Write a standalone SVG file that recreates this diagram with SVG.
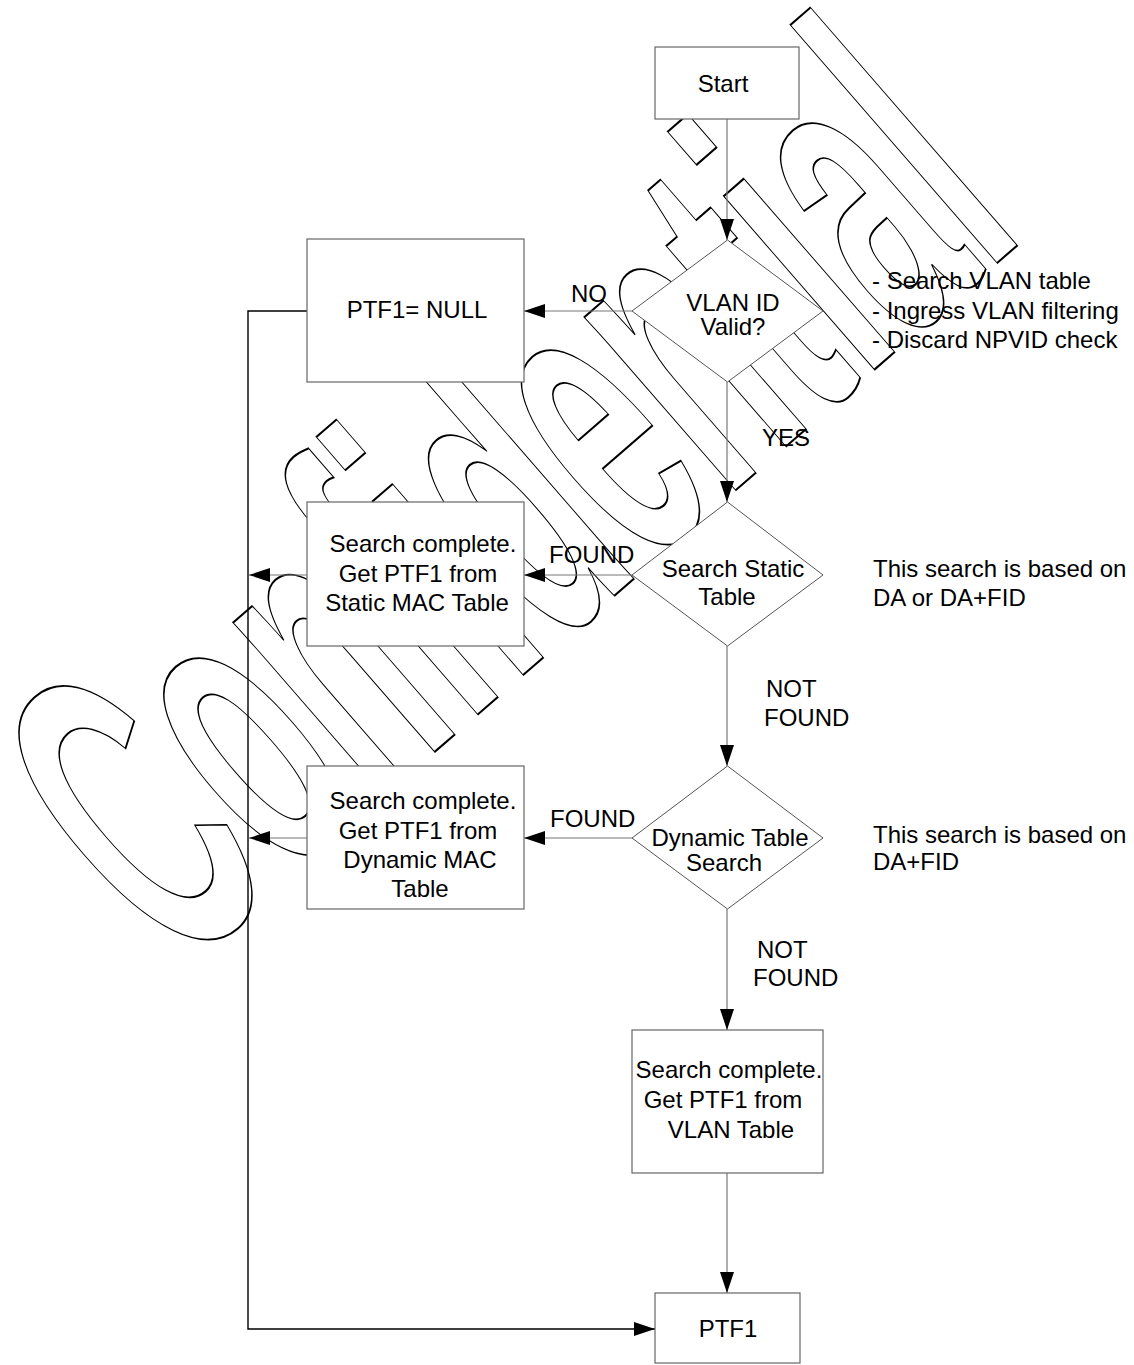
<svg xmlns="http://www.w3.org/2000/svg" width="1134" height="1365" viewBox="0 0 1134 1365">
<style>
text{font-family:"Liberation Sans",Arial,sans-serif;font-size:24px;fill:#000}
.m{text-anchor:middle}
.box{fill:#fff;stroke:#666;stroke-width:1.2}
.dia{fill:#fff;stroke:#555;stroke-width:1}
.ln{fill:none;stroke:#777;stroke-width:1.2}
.blk{fill:none;stroke:#000;stroke-width:1.4}
.wm{font-family:"Liberation Sans",Arial,sans-serif;font-weight:bold;font-size:435px;fill:none;stroke:#000;stroke-width:1.6}
</style>
<defs>
<marker id="ah" markerUnits="userSpaceOnUse" markerWidth="21" markerHeight="14" refX="21" refY="7" orient="auto">
<path d="M0,0 L21,7 L0,14 z" fill="#000"/>
</marker>
</defs>
<rect width="1134" height="1365" fill="#fff"/>
<g id="watermark">
<text class="wm" vector-effect="non-scaling-stroke" transform="translate(178,975) rotate(-41) scale(0.448,1)" style="vector-effect:non-scaling-stroke">Confidential</text>
</g>
<g id="connectors">
<path class="ln" d="M727,119 V240" marker-end="url(#ah)"/>
<path class="ln" d="M632,311 H524" marker-end="url(#ah)"/>
<path class="ln" d="M727,382 V502" marker-end="url(#ah)"/>
<path class="ln" d="M632,575 H524" marker-end="url(#ah)"/>
<path class="ln" d="M727,646 V766" marker-end="url(#ah)"/>
<path class="ln" d="M632,838 H524" marker-end="url(#ah)"/>
<path class="ln" d="M727,909 V1030" marker-end="url(#ah)"/>
<path class="ln" d="M727,1173 V1293" marker-end="url(#ah)"/>
<path class="blk" d="M307,311 H248 V1329 H655" marker-end="url(#ah)"/>
<path class="ln" d="M307,575 H249" marker-end="url(#ah)"/>
<path class="ln" d="M307,838 H249" marker-end="url(#ah)"/>
<text x="571" y="302">NO</text>
<text x="762" y="446">YES</text>
<text x="549" y="563">FOUND</text>
<text x="766" y="697">NOT</text>
<text x="764" y="726">FOUND</text>
<text x="550" y="827">FOUND</text>
<text x="757" y="958">NOT</text>
<text x="753" y="986">FOUND</text>
</g>
<g id="start">
<rect class="box" x="655" y="47" width="144" height="72"/>
<text class="m" x="723" y="92">Start</text>
</g>
<g id="vlan-valid">
<polygon class="dia" points="727.5,240 823,311 727.5,382 632,311"/>
<text class="m" x="733" y="311">VLAN ID</text>
<text class="m" x="733" y="335">Valid?</text>
</g>
<g id="vlan-notes">
<text x="872" y="289">- Search VLAN table</text>
<text x="872" y="319">- Ingress VLAN filtering</text>
<text x="872" y="348">- Discard NPVID check</text>
</g>
<g id="ptf1-null">
<rect class="box" x="307" y="239" width="217" height="143"/>
<text class="m" x="417" y="318">PTF1= NULL</text>
</g>
<g id="search-static">
<polygon class="dia" points="727.5,502 823,575 727.5,646 632,575"/>
<text class="m" x="733" y="577">Search Static</text>
<text class="m" x="727" y="605">Table</text>
</g>
<g id="static-note">
<text x="873" y="577">This search is based on</text>
<text x="873" y="606">DA or DA+FID</text>
</g>
<g id="static-result">
<rect class="box" x="307" y="502" width="217" height="144"/>
<text class="m" x="423" y="552">Search complete.</text>
<text class="m" x="418" y="582">Get PTF1 from</text>
<text class="m" x="417" y="611">Static MAC Table</text>
</g>
<g id="dynamic-search">
<polygon class="dia" points="727.5,766 823,838 727.5,909 632,838"/>
<text class="m" x="730" y="846">Dynamic Table</text>
<text class="m" x="724" y="871">Search</text>
</g>
<g id="dynamic-note">
<text x="873" y="843">This search is based on</text>
<text x="873" y="870">DA+FID</text>
</g>
<g id="dynamic-result">
<rect class="box" x="307" y="766" width="217" height="143"/>
<text class="m" x="423" y="809">Search complete.</text>
<text class="m" x="418" y="839">Get PTF1 from</text>
<text class="m" x="420" y="868">Dynamic MAC</text>
<text class="m" x="420" y="897">Table</text>
</g>
<g id="vlan-result">
<rect class="box" x="632" y="1030" width="191" height="143"/>
<text class="m" x="729" y="1078">Search complete.</text>
<text class="m" x="723" y="1108">Get PTF1 from</text>
<text class="m" x="731" y="1138">VLAN Table</text>
</g>
<g id="ptf1">
<rect class="box" x="655" y="1293" width="145" height="70"/>
<text class="m" x="728" y="1337">PTF1</text>
</g>
</svg>
